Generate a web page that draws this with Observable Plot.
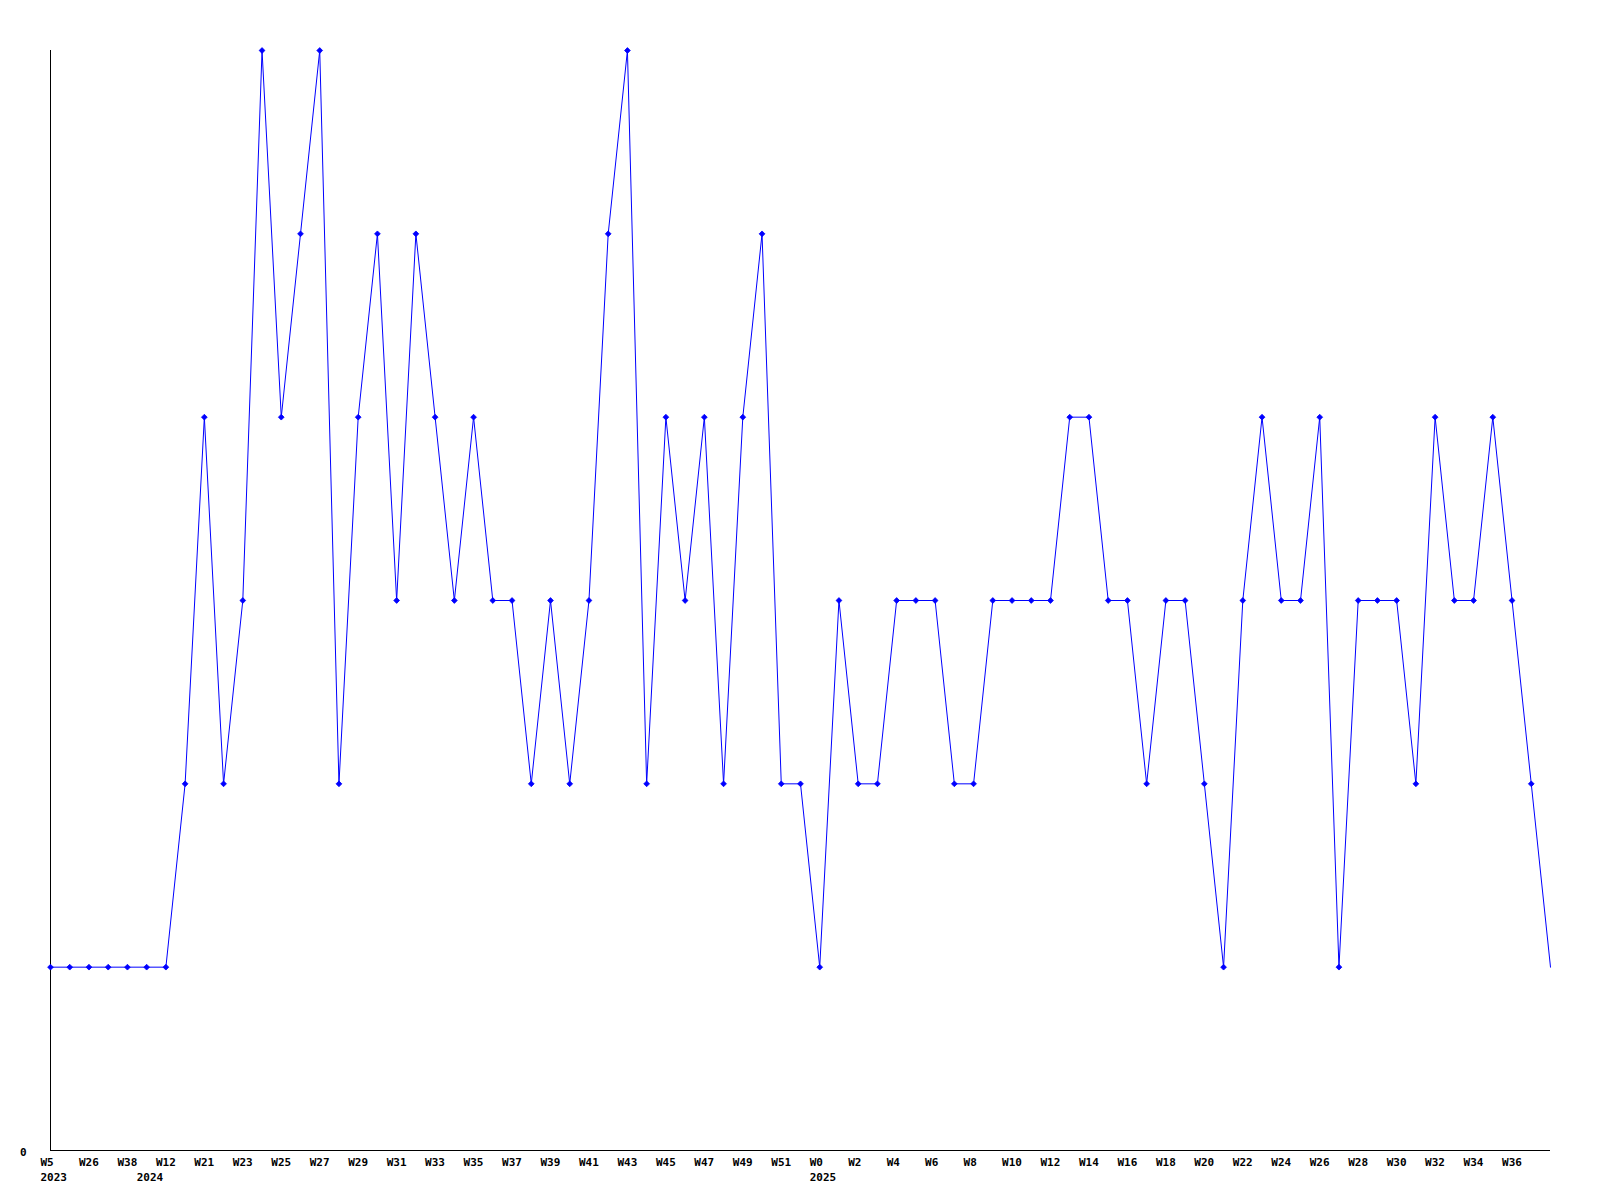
<!DOCTYPE html>
<html>
<head>
<meta charset="utf-8">
<script src="https://cdn.jsdelivr.net/npm/d3@7"></script>
<script src="https://cdn.jsdelivr.net/npm/@observablehq/plot@0.6"></script>
<style>
  html, body { margin: 0; padding: 0; background: #fff; }
  #chart svg { display: block; }
</style>
</head>
<body>
<div id="chart"></div>
<script>
const weeks = [
  "W5","W17","W26","W33","W38","W8","W12","W19",
  "W21","W22","W23","W24","W25","W26","W27","W28","W29","W30","W31","W32",
  "W33","W34","W35","W36","W37","W38","W39","W40","W41","W42","W43","W44",
  "W45","W46","W47","W48","W49","W50","W51","W52",
  "W0","W1","W2","W3","W4","W5","W6","W7","W8","W9","W10","W11","W12","W13",
  "W14","W15","W16","W17","W18","W19","W20","W21","W22","W23","W24","W25",
  "W26","W27","W28","W29","W30","W31","W32","W33","W34","W35","W36","W37","W38"
];
const years = [
  2023,2023,2023,2023,2023,2024,2024,2024,
  2024,2024,2024,2024,2024,2024,2024,2024,2024,2024,2024,2024,
  2024,2024,2024,2024,2024,2024,2024,2024,2024,2024,2024,2024,
  2024,2024,2024,2024,2024,2024,2024,2024,
  2025,2025,2025,2025,2025,2025,2025,2025,2025,2025,2025,2025,2025,2025,
  2025,2025,2025,2025,2025,2025,2025,2025,2025,2025,2025,2025,
  2025,2025,2025,2025,2025,2025,2025,2025,2025,2025,2025,2025,2025
];
const values = [
  1,1,1,1,1,1,1,2,
  4,2,3,6,4,5,6,2,4,5,3,5,
  4,3,4,3,3,2,3,2,3,5,6,2,
  4,3,4,2,4,5,2,2,
  1,3,2,2,3,3,3,2,2,3,3,3,3,4,
  4,3,3,2,3,3,2,1,3,4,3,3,
  4,1,3,3,3,2,4,3,3,4,3,2,1
];
const yTicks = [0];

const data = values.map((v, i) => ({i, week: weeks[i], year: years[i], value: v}));
const complete = data.slice(0, data.length - 1); // last (incomplete) week: no marker, no label
const labelled = complete.filter(d => d.i % 2 === 0);
const yearStarts = data.filter((d, k) => k === 0 || d.year !== data[k - 1].year);

const font = "'DejaVu Sans Mono', monospace";

const chart = Plot.plot({
  width: 1600,
  height: 1200,
  marginLeft: 50,
  marginRight: 50,
  marginTop: 50,
  marginBottom: 50,
  style: {fontFamily: font, fontSize: "11px", fontWeight: "bold", background: "#fff", color: "#000"},
  x: {type: "linear", domain: [0, values.length - 1], axis: null},
  y: {domain: [0, 6], axis: null},
  marks: [
    Plot.ruleY([0], {stroke: "#000", strokeWidth: 1}),
    Plot.ruleX([0], {stroke: "#000", strokeWidth: 1}),
    Plot.text(yTicks, {x: 0, y: d => d, text: d => String(d), textAnchor: "end", dx: -24, dy: 2, fill: "#000"}),
    Plot.text(labelled, {x: "i", y: 0, text: "week", textAnchor: "start", dx: -10, dy: 12, fill: "#000"}),
    Plot.text(yearStarts, {x: "i", y: 0, text: d => String(d.year), textAnchor: "start", dx: -10, dy: 27, fill: "#000"}),
    Plot.line(data, {x: "i", y: "value", stroke: "#0000ff", strokeWidth: 1}),
    Plot.dot(complete, {x: "i", y: "value", symbol: "diamond2", r: 2.6, fill: "#0000ff", stroke: "#0000ff", strokeWidth: 0.8})
  ]
});
document.getElementById("chart").appendChild(chart);
</script>
</body>
</html>
